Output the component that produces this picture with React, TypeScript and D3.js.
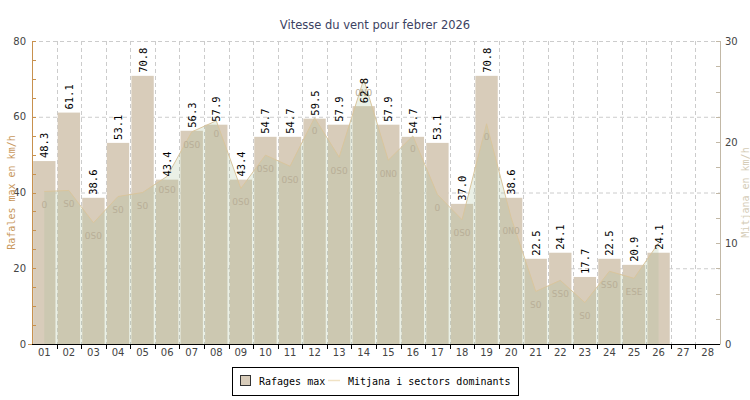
import React from 'react';
import * as d3 from 'd3';

const days = ['01','02','03','04','05','06','07','08','09','10','11','12','13','14','15','16','17','18','19','20','21','22','23','24','25','26','27','28'];
const gusts: (number | null)[] = [48.3,61.1,38.6,53.1,70.8,43.4,56.3,57.9,43.4,54.7,54.7,59.5,57.9,62.8,57.9,54.7,53.1,37.0,70.8,38.6,22.5,24.1,17.7,22.5,20.9,24.1,null,null];
const means: (number | null)[] = [15.1,15.2,12.0,14.6,15.0,16.6,21.0,22.1,15.4,18.7,17.6,22.4,18.5,26.2,18.2,20.6,14.8,12.3,21.8,12.5,5.2,6.3,4.1,7.2,6.5,10.0,null,null];
const dirs = ['O','SO','OSO','SO','SO','OSO','OSO','O','OSO','OSO','OSO','O','OSO','ONO','ONO','O','O','OSO','O','ONO','SO','SSO','SO','SSO','ESE','','',''];
const leftTicks = [0,20,40,60,80];
const rightTicks = [0,10,20,30];
const title = 'Vitesse du vent pour febrer 2026';
const leftTitle = 'Rafales max en km/h';
const rightTitle = 'Mitjana en km/h';
const legendBar = 'Rafages max';
const legendLine = 'Mitjana i sectors dominants';

const W = 750, H = 400;
const L = 32, R = 720, T = 41, B = 344;
const MONO = '"DejaVu Sans Mono", monospace';
const SANS = '"DejaVu Sans", sans-serif';

export default function App() {
  const x = d3.scaleBand<string>().domain(days).range([L, R]).paddingInner(0).paddingOuter(0);
  const bw = x.bandwidth();
  const barW = bw * 0.91;
  const yL = d3.scaleLinear().domain([0, 80]).range([B, T]);
  const yR = d3.scaleLinear().domain([0, 30]).range([B, T]);
  const cx = (d: string) => (x(d) as number) + bw / 2;

  const meanPts = days.map((d, i) => ({ d, v: means[i] })).filter(p => p.v != null) as { d: string; v: number }[];
  const area = d3.area<{ d: string; v: number }>().x(p => cx(p.d)).y0(yR(0)).y1(p => yR(p.v));
  const line = d3.line<{ d: string; v: number }>().x(p => cx(p.d)).y(p => yR(p.v));

  const leftMinor = d3.range(0, 81, 5);
  const rightMinor = d3.range(0, 30.01, 2.5);
  const bounds = days.slice(1).map(d => x(d) as number);

  return (
    <svg width={W} height={H} style={{ position: 'absolute', left: 0, top: 0, background: '#fff' }} xmlns="http://www.w3.org/2000/svg">
      <rect x={0} y={0} width={W} height={H} fill="#fff" />
      <text x={375} y={29} textAnchor="middle" fontFamily={SANS} fontSize={11.5} fill="#3c4262">{title}</text>

      {/* grid */}
      {leftTicks.filter(t => t > 0).map(t => (
        <line key={'hg' + t} x1={L} x2={R} y1={yL(t) + 0.5} y2={yL(t) + 0.5} stroke="#cccccc" strokeDasharray="4,3" />
      ))}
      {bounds.map((bx, i) => (
        <line key={'vg' + i} x1={Math.round(bx) + 0.5} x2={Math.round(bx) + 0.5} y1={T} y2={B} stroke="#cccccc" strokeDasharray="4,3" />
      ))}

      {/* bars */}
      {days.map((d, i) => gusts[i] == null ? null : (
        <rect key={'b' + d} x={cx(d) - barW / 2} y={yL(gusts[i] as number)} width={barW} height={B - yL(gusts[i] as number)} fill="#d8ccba" />
      ))}

      {/* area of means */}
      <path d={area(meanPts) || ''} fill="rgb(164,190,146)" fillOpacity={0.23} />
      <path d={line(meanPts) || ''} fill="none" stroke="#d9c59d" strokeWidth={1} />

      {/* direction labels */}
      {meanPts.map((p, i) => (
        <text key={'dl' + p.d} x={cx(p.d)} y={yR(p.v) + 13} textAnchor="middle" dominantBaseline="central" fontFamily={MONO} fontSize={9.5} fill="#b9af98">{dirs[days.indexOf(p.d)]}</text>
      ))}

      {/* value labels */}
      {days.map((d, i) => gusts[i] == null ? null : (
        <text key={'vl' + d} transform={`translate(${cx(d)},${yL(gusts[i] as number) - 3}) rotate(-90)`} textAnchor="start" dominantBaseline="central" fontFamily={MONO} fontSize={10.5} fill="#000">{(gusts[i] as number).toFixed(1)}</text>
      ))}

      {/* left axis */}
      <line x1={L + 0.5} x2={L + 0.5} y1={T} y2={B + 0.5} stroke="#c8914e" />
      <line x1={L - 4} x2={L} y1={B + 0.5} y2={B + 0.5} stroke="#c8914e" />
      {leftMinor.map(t => (
        <line key={'lt' + t} x1={L} x2={L + 4} y1={Math.round(yL(t)) + 0.5} y2={Math.round(yL(t)) + 0.5} stroke="#c8914e" />
      ))}
      {leftTicks.map(t => (
        <text key={'ll' + t} x={26} y={yL(t)} textAnchor="end" dominantBaseline="central" fontFamily={SANS} fontSize={10} fill="#444">{t}</text>
      ))}
      <text transform={`translate(11,${(T + B) / 2}) rotate(-90)`} textAnchor="middle" dominantBaseline="central" fontFamily={MONO} fontSize={10} fill="#c8975c">{leftTitle}</text>

      {/* right axis */}
      <line x1={R + 0.5} x2={R + 0.5} y1={T} y2={B + 0.5} stroke="#c2b8a6" />
      {rightMinor.map(t => (
        <line key={'rt' + t} x1={R - 4} x2={R} y1={Math.round(yR(t)) + 0.5} y2={Math.round(yR(t)) + 0.5} stroke="#c2b8a6" />
      ))}
      {rightTicks.map(t => (
        <text key={'rl' + t} x={725} y={yR(t)} textAnchor="start" dominantBaseline="central" fontFamily={SANS} fontSize={10} fill="#444">{t}</text>
      ))}
      <text transform={`translate(745,${(T + B) / 2}) rotate(-90)`} textAnchor="middle" dominantBaseline="central" fontFamily={MONO} fontSize={10} fill="#d4cbb6">{rightTitle}</text>

      {/* x axis */}
      <line x1={L} x2={R} y1={B + 0.5} y2={B + 0.5} stroke="#000" />
      {bounds.map((bx, i) => (
        <line key={'xt' + i} x1={Math.round(bx) + 0.5} x2={Math.round(bx) + 0.5} y1={B} y2={B + 5} stroke="#000" />
      ))}
      {days.map(d => (
        <text key={'xl' + d} x={cx(d)} y={356} textAnchor="middle" fontFamily={SANS} fontSize={10} fill="#444">{d}</text>
      ))}

      {/* legend */}
      <rect x={232.5} y={367.5} width={286} height={28} fill="#fff" stroke="#000" />
      <rect x={240.5} y={375.5} width={10} height={10} fill="#d8ccba" stroke="#333" />
      <text x={259} y={385} fontFamily={MONO} fontSize={10} fill="#000">{legendBar}</text>
      <line x1={328} x2={340} y1={380.5} y2={380.5} stroke="#f0e2c4" strokeWidth={1.5} />
      <text x={348} y={385} fontFamily={MONO} fontSize={10} fill="#000">{legendLine}</text>
    </svg>
  );
}
